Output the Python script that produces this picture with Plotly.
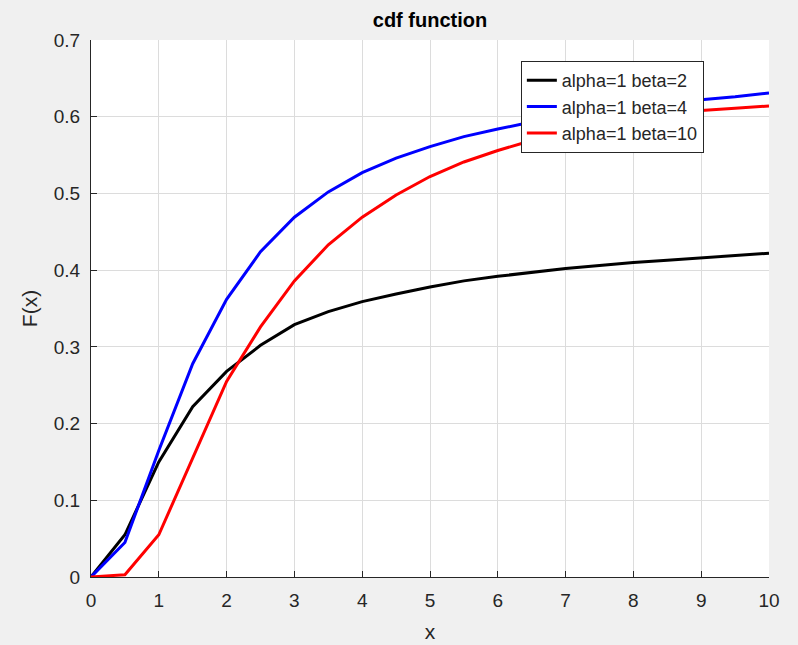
import plotly.graph_objects as go

x_vals = [0, 0.5, 1, 1.5, 2, 2.5, 3, 3.5, 4, 4.5, 5, 5.5, 6, 6.5, 7, 7.5, 8, 8.5, 9, 9.5, 10]
beta2 = [0, 0.055, 0.15, 0.222, 0.268, 0.302, 0.329, 0.346, 0.359, 0.369, 0.378, 0.386, 0.392, 0.397, 0.402, 0.406, 0.410, 0.413, 0.416, 0.419, 0.422]
beta4 = [0, 0.045, 0.165, 0.278, 0.362, 0.424, 0.469, 0.502, 0.527, 0.546, 0.561, 0.574, 0.584, 0.593, 0.600, 0.607, 0.613, 0.618, 0.622, 0.626, 0.631]
beta10 = [0, 0.003, 0.055, 0.155, 0.255, 0.326, 0.386, 0.433, 0.469, 0.498, 0.522, 0.541, 0.556, 0.569, 0.580, 0.589, 0.597, 0.603, 0.608, 0.611, 0.614]
names = ["alpha=1 beta=2", "alpha=1 beta=4", "alpha=1 beta=10"]
colors = ["#000000", "#0000ff", "#ff0000"]
x_ticks = list(range(0, 11))
y_ticks = [0, 0.1, 0.2, 0.3, 0.4, 0.5, 0.6, 0.7]
y_ticktext = ["0", "0.1", "0.2", "0.3", "0.4", "0.5", "0.6", "0.7"]

fig = go.Figure()
for ys, nm, c in zip([beta2, beta4, beta10], names, colors):
    fig.add_trace(go.Scatter(x=x_vals, y=ys, mode="lines", name=nm,
                             line=dict(color=c, width=3)))

font_fam = "Liberation Sans, Arial, sans-serif"
fig.update_layout(
    width=798, height=645,
    paper_bgcolor="#f0f0f0", plot_bgcolor="#ffffff",
    margin=dict(l=91, r=29, t=40, b=68),
    font=dict(family=font_fam, color="#262626", size=19),
    title=dict(text="<b>cdf function</b>", xref="paper", x=0.5, xanchor="center",
               yref="container", y=1 - 20 / 645, yanchor="middle",
               font=dict(size=20, color="#000000")),
    showlegend=True,
    legend=dict(x=0.634, y=0.961, xanchor="left", yanchor="top",
                bgcolor="#ffffff", bordercolor="#262626", borderwidth=1,
                font=dict(size=18, color="#262626"), tracegroupgap=1,
                itemwidth=30),
)
fig.update_xaxes(range=[0, 10], tickvals=x_ticks, showgrid=True, gridcolor="#dcdcdc", gridwidth=1,
                 showline=True, linecolor="#262626", linewidth=1, ticks="inside", ticklen=6,
                 tickcolor="#262626", zeroline=False, mirror=False, automargin=False,
                 ticklabelstandoff=6,
                 title=dict(text="x", font=dict(size=21), standoff=14),
                 tickfont=dict(size=19))
fig.update_yaxes(range=[0, 0.7], tickvals=y_ticks, ticktext=y_ticktext,
                 showgrid=True, gridcolor="#dcdcdc", gridwidth=1,
                 showline=True, linecolor="#262626", linewidth=1, ticks="inside", ticklen=6,
                 tickcolor="#262626", zeroline=False, mirror=False, automargin=False,
                 ticklabelstandoff=6,
                 title=dict(text="F(x)", font=dict(size=21), standoff=10),
                 tickfont=dict(size=19))

fig.write_html("out.html")
